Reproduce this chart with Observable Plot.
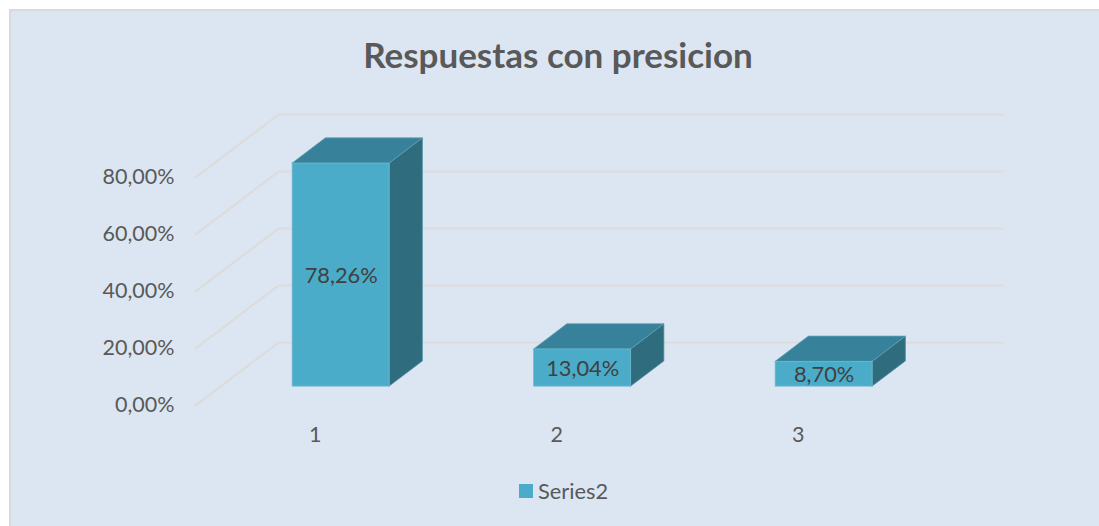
<!DOCTYPE html>
<html lang="es">
<head>
<meta charset="utf-8">
<script src="https://cdn.jsdelivr.net/npm/d3@7"></script>
<script src="https://cdn.jsdelivr.net/npm/@observablehq/plot@0.6"></script>
<style>
  html, body { margin: 0; padding: 0; background: #fff; width: 1099px; height: 526px; overflow: hidden; }
  #panel { position: absolute; left: 9px; top: 9px; width: 1090px; height: 517px; box-sizing: border-box;
           background: #DCE6F2; border-left: 2px solid #D9D9D9; border-top: 2px solid #D9D9D9; }
  #title { position: absolute; left: 0; width: 1116px; top: 33px; text-align: center;
           font: 700 35px Lato, sans-serif; color: #595959; white-space: nowrap; }
  #chart { position: absolute; left: 0; top: 0; }
  #chart svg { background: transparent; display: block; }
  #legend { position: absolute; left: 519px; top: 477px; display: flex; align-items: center; height: 26px;
            font: 21.8px Lato, sans-serif; color: #595959; }
  #legend i { display: inline-block; width: 14px; height: 14px; background: #4AACC8; margin-right: 5px; margin-top: 2px; }
</style>
</head>
<body>
<div id="panel"></div>
<div id="title">Respuestas con presicion</div>
<div id="chart"></div>
<div id="legend"><i></i><span>Series2</span></div>
<script>
const categories = [1, 2, 3];
const values = [78.26, 13.04, 8.70];
const valueLabels = ["78,26%", "13,04%", "8,70%"];
const yTicks = [0, 20, 40, 60, 80];
const yTickLabels = ["0,00%", "20,00%", "40,00%", "60,00%", "80,00%"];

// Oblique projection: depth 0 = front of the floor, 1 = back wall,
// expressed in units of each scale.
const depthX = 0.3437, depthY = 22.1;
const barHalf = 0.2008, barFront = 0.30, barBack = 0.70;
const px = (c, d) => c + d * depthX;
const py = (v, d) => v + d * depthY;

const bars = categories.map((c, i) => ({c, v: values[i], label: valueLabels[i]}));

const grid = yTicks.flatMap(v => [
  {v, x: px(0.5, 0), y: py(v, 0)},
  {v, x: px(0.5, 1), y: py(v, 1)},
  {v, x: px(3.5, 1), y: py(v, 1)}
]);

const sides = bars.flatMap(b => [barFront, barBack].map(d => ({
  c: b.c, x: px(b.c + barHalf, d), y1: py(0, d), y2: py(b.v, d)
})));

const tops = bars.flatMap(b => [barFront, barBack].map(d => ({
  c: b.c, y: py(b.v, d), x1: px(b.c - barHalf, d), x2: px(b.c + barHalf, d)
})));

const edge = "#6DB9CE";
const font = "Lato, sans-serif";

const plot = Plot.plot({
  width: 1099,
  height: 526,
  marginLeft: 195,
  marginRight: 180,
  marginTop: 100,
  marginBottom: 121,
  style: {background: "transparent", fontFamily: font},
  x: {type: "linear", domain: [0.5, 3.5], range: [195, 919.5]},
  y: {type: "linear", domain: [0, 80], range: [405, 177]},
  marks: [
    Plot.line(grid, {x: "x", y: "y", z: "v", stroke: "#DDDCDC", strokeWidth: 2.2, curve: "linear"}),
    Plot.axisY({
      ticks: yTicks, tickSize: 0, tickPadding: 21, label: null,
      tickFormat: d => yTickLabels[yTicks.indexOf(d)],
      fontSize: 21.5, fill: "#595959", dy: 0
    }),
    Plot.axisX({
      ticks: categories, tickSize: 0, tickPadding: 21, label: null,
      tickFormat: d => String(d),
      fontSize: 21.5, fill: "#595959", dx: -1
    }),
    Plot.areaY(sides, {x: "x", y1: "y1", y2: "y2", z: "c", fill: "#2F6C7D", stroke: "#4E8FA3", strokeWidth: 0.8}),
    Plot.areaX(tops, {y: "y", x1: "x1", x2: "x2", z: "c", fill: "#37829A", stroke: "#5FA0B4", strokeWidth: 0.8}),
    Plot.rect(bars, {
      x1: b => px(b.c - barHalf, barFront),
      x2: b => px(b.c + barHalf, barFront),
      y1: () => py(0, barFront),
      y2: b => py(b.v, barFront),
      fill: "#4AACC8", stroke: edge, strokeWidth: 0.8
    }),
    Plot.text(bars, {
      x: b => px(b.c, barFront),
      y: b => py(b.v / 2, barFront),
      text: "label", fontSize: 21.8, fill: "#404040", dy: 1
    })
  ]
});
document.getElementById("chart").appendChild(plot);
</script>
</body>
</html>
